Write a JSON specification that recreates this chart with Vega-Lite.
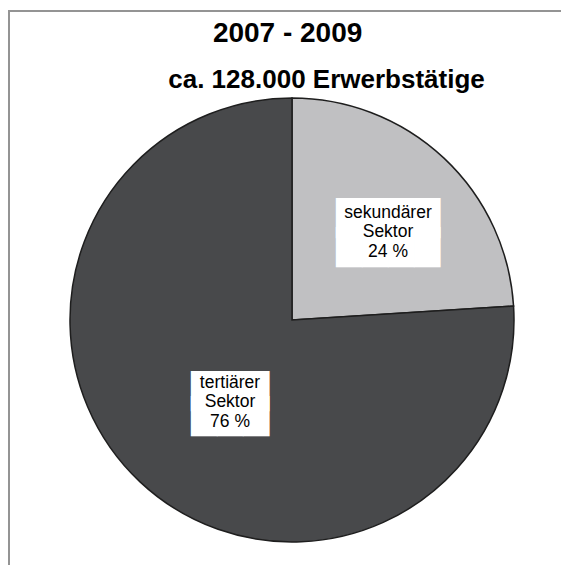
{
  "$schema": "https://vega.github.io/schema/vega-lite/v6.json",
  "width": 566,
  "height": 618,
  "autosize": {"type": "none"},
  "padding": {"left": 9, "top": 11, "right": -14, "bottom": -64},
  "background": "white",
  "view": {"stroke": "#949494", "strokeWidth": 2},
  "config": {
    "font": "Liberation Sans"
  },
  "title": {
    "text": "2007 - 2009\u00a0\u00a0\u00a0\u00a0\u00a0\u00a0\u00a0\u00a0\u00a0\u00a0\u200b",
    "subtitle": "ca. 128.000 Erwerbstätige",
    "anchor": "middle",
    "frame": "group",
    "orient": "top",
    "offset": -82,
    "dx": 34.5,
    "font": "Liberation Sans",
    "fontSize": 28,
    "fontWeight": "bold",
    "color": "black",
    "subtitleFont": "Liberation Sans",
    "subtitleFontSize": 26,
    "subtitleFontWeight": "bold",
    "subtitleColor": "black",
    "subtitlePadding": 19
  },
  "data": {
    "values": [
      {"sector": "sekundärer Sektor", "share": 24, "label": "sekundärer\nSektor\n24 %"},
      {"sector": "tertiärer Sektor", "share": 76, "label": "tertiärer\nSektor\n76 %"}
    ]
  },
  "layer": [
    {
      "mark": {"type": "arc", "radius": 222, "stroke": "#1e1e1e", "strokeWidth": 1.5},
      "encoding": {
        "theta": {"field": "share", "type": "quantitative", "stack": true},
        "order": {"field": "sector", "sort": "ascending"},
        "color": {
          "field": "sector",
          "type": "nominal",
          "scale": {"domain": ["sekundärer Sektor", "tertiärer Sektor"], "range": ["#c0c0c2", "#48494b"]},
          "legend": null
        }
      }
    },
    {
      "mark": {"type": "text", "font": "DejaVu Sans", "fontSize": 33.8, "lineHeight": 28.5, "lineBreak": "\n", "align": "center", "baseline": "middle", "color": "white", "dx": 7, "dy": -5},
      "encoding": {
        "theta": {"field": "share", "type": "quantitative", "stack": true},
        "order": {"field": "sector", "sort": "ascending"},
        "radius": {"value": 130},
        "text": {"condition": {"test": "datum.sector === 'sekundärer Sektor'", "value": "████\n████"}, "value": ""}
      }
    },
    {
      "mark": {"type": "text", "font": "DejaVu Sans", "fontSize": 33.8, "lineHeight": 24.5, "lineBreak": "\n", "align": "center", "baseline": "middle", "color": "white", "dx": 8.5, "dy": -1.8},
      "encoding": {
        "theta": {"field": "share", "type": "quantitative", "stack": true},
        "order": {"field": "sector", "sort": "ascending"},
        "radius": {"value": 103},
        "text": {"condition": {"test": "datum.sector === 'tertiärer Sektor'", "value": "███\n███"}, "value": ""}
      }
    },
    {
      "mark": {"type": "text", "font": "Liberation Sans", "fontSize": 17.5, "lineHeight": 19.3, "lineBreak": "\n", "align": "center", "baseline": "middle", "color": "black", "dx": 7, "dy": -12.2},
      "encoding": {
        "theta": {"field": "share", "type": "quantitative", "stack": true},
        "order": {"field": "sector", "sort": "ascending"},
        "radius": {"value": 130},
        "text": {"condition": {"test": "datum.sector === 'sekundärer Sektor'", "field": "label"}, "value": ""}
      }
    },
    {
      "mark": {"type": "text", "font": "Liberation Sans", "fontSize": 17.5, "lineHeight": 19.3, "lineBreak": "\n", "align": "center", "baseline": "middle", "color": "black", "dx": 8.5, "dy": -12},
      "encoding": {
        "theta": {"field": "share", "type": "quantitative", "stack": true},
        "order": {"field": "sector", "sort": "ascending"},
        "radius": {"value": 103},
        "text": {"condition": {"test": "datum.sector === 'tertiärer Sektor'", "field": "label"}, "value": ""}
      }
    }
  ]
}
